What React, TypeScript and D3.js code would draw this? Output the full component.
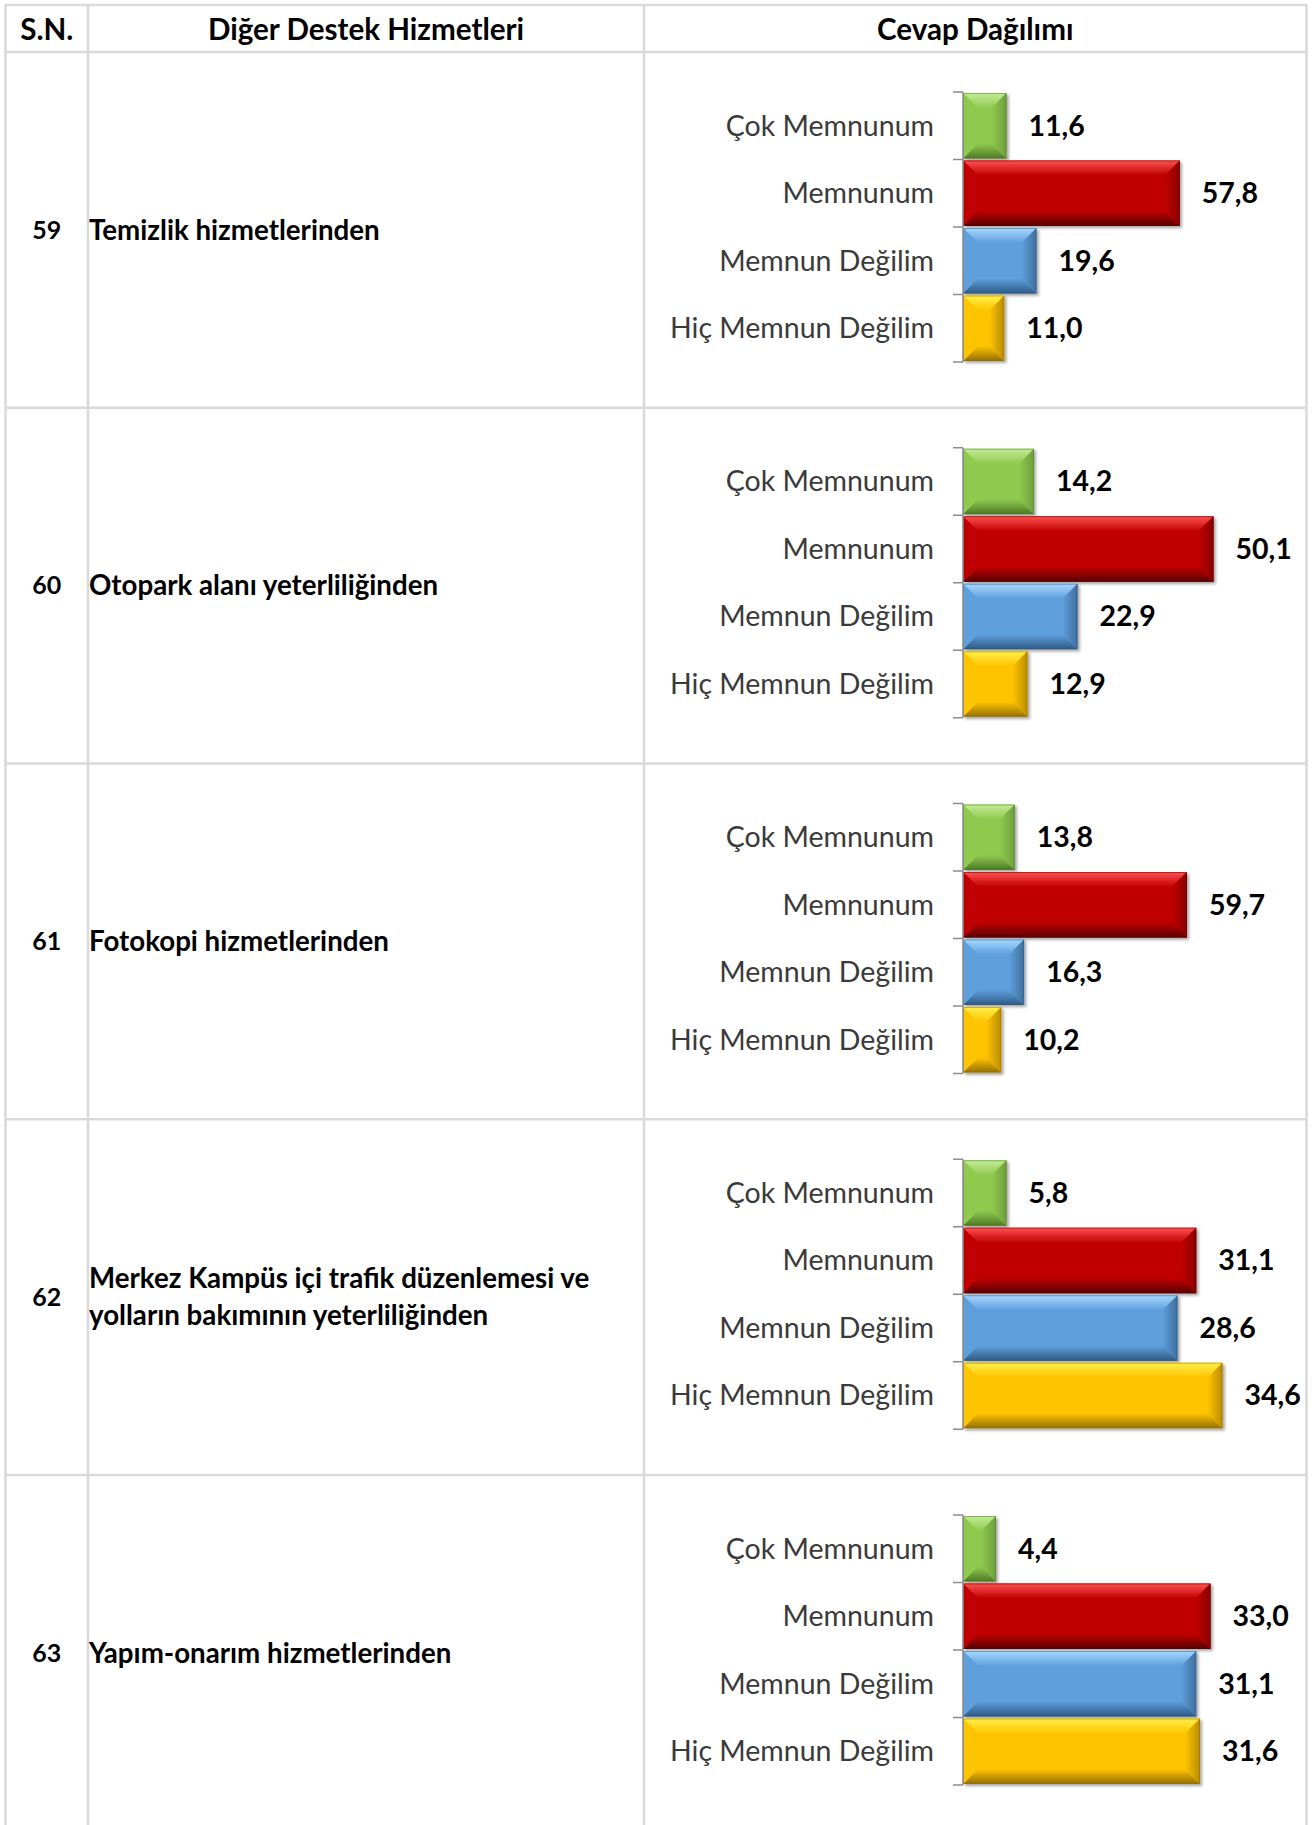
import React, { useEffect, useRef } from 'react';
import * as d3 from 'd3';

// answer categories (same order in every chart)
const categories = ['Çok Memnunum', 'Memnunum', 'Memnun Değilim', 'Hiç Memnun Değilim'];

// table rows
const itemNumbers = ['59', '60', '61', '62', '63'];
const itemTexts = [
  ['Temizlik hizmetlerinden'],
  ['Otopark alanı yeterliliğinden'],
  ['Fotokopi hizmetlerinden'],
  ['Merkez Kampüs içi trafik düzenlemesi ve', 'yolların bakımının yeterliliğinden'],
  ['Yapım-onarım hizmetlerinden'],
];

// percentages per answer, one entry per row
const cokMemnunum = [11.6, 14.2, 13.8, 5.8, 4.4];
const memnunum = [57.8, 50.1, 59.7, 31.1, 33.0];
const memnunDegilim = [19.6, 22.9, 16.3, 28.6, 31.1];
const hicMemnunDegilim = [11.0, 12.9, 10.2, 34.6, 31.6];

// axis maximum of each small chart
const axisMax = [80, 60, 80, 40, 40];

const headers = ['S.N.', 'Diğer Destek Hizmetleri', 'Cevap Dağılımı'];

const seriesColors = [
  { base: '#8fca4f', light: '#c4ec98', dark: '#4e7a25', side: '#6f9f3c' },
  { base: '#c00000', light: '#ff5252', dark: '#5a0000', side: '#8a0000' },
  { base: '#5e9fdc', light: '#a8d8ff', dark: '#2e5a86', side: '#3f6f9c' },
  { base: '#ffc400', light: '#fff04d', dark: '#957000', side: '#b98c00' },
];

const W = 1312;
const H = 1825;

const App = () => {
  const svgRef = useRef(null);

  useEffect(() => {
    const svg = d3.select(svgRef.current);
    svg.selectAll('*').remove();

    const colX = [5.5, 88, 644, 1306.5];
    const tableTop = 5;
    const headerBottom = 52;
    const rowH = 355.75;
    const font = 'Lato, Carlito, Calibri, sans-serif';

    const defs = svg.append('defs');
    defs.append('filter')
      .attr('id', 'shadow')
      .attr('x', '-10%').attr('y', '-20%')
      .attr('width', '130%').attr('height', '150%')
      .append('feDropShadow')
      .attr('dx', 2).attr('dy', 2)
      .attr('stdDeviation', 1.6)
      .attr('flood-color', '#000')
      .attr('flood-opacity', 0.35);

    seriesColors.forEach((c, k) => {
      const gTop = defs.append('linearGradient')
        .attr('id', `top${k}`).attr('x1', 0).attr('y1', 0).attr('x2', 0).attr('y2', 1);
      gTop.append('stop').attr('offset', '0%').attr('stop-color', c.light);
      gTop.append('stop').attr('offset', '100%').attr('stop-color', c.base);
      const gBot = defs.append('linearGradient')
        .attr('id', `bot${k}`).attr('x1', 0).attr('y1', 0).attr('x2', 0).attr('y2', 1);
      gBot.append('stop').attr('offset', '0%').attr('stop-color', c.base);
      gBot.append('stop').attr('offset', '100%').attr('stop-color', c.dark);
      const gRight = defs.append('linearGradient')
        .attr('id', `right${k}`).attr('x1', 0).attr('y1', 0).attr('x2', 1).attr('y2', 0);
      gRight.append('stop').attr('offset', '0%').attr('stop-color', c.base);
      gRight.append('stop').attr('offset', '100%').attr('stop-color', c.side);
    });

    const table = svg.append('g');

    // table grid
    const hLines = [tableTop, headerBottom].concat(itemNumbers.map((_, i) => headerBottom + (i + 1) * rowH));
    table.selectAll('.hline')
      .data(hLines.filter((y) => y < H - 2))
      .enter()
      .append('line')
      .attr('x1', colX[0]).attr('x2', colX[3])
      .attr('y1', (d) => d).attr('y2', (d) => d)
      .attr('stroke', '#d9d9d9').attr('stroke-width', 2.5);

    table.selectAll('.vline')
      .data(colX)
      .enter()
      .append('line')
      .attr('x1', (d) => d).attr('x2', (d) => d)
      .attr('y1', tableTop - 1).attr('y2', H)
      .attr('stroke', '#d9d9d9').attr('stroke-width', 2.5);

    // header texts
    table.selectAll('.head')
      .data(headers)
      .enter()
      .append('text')
      .attr('x', (d, i) => (colX[i] + colX[i + 1]) / 2)
      .attr('y', (tableTop + headerBottom) / 2 + 1)
      .attr('dy', '0.35em')
      .attr('text-anchor', 'middle')
      .attr('font-family', font)
      .attr('font-weight', 700)
      .attr('font-size', 29.6)
      .attr('fill', '#000')
      .text((d) => d);

    const fmt = (v) => d3.format('.1f')(v).replace('.', ',');

    itemNumbers.forEach((num, i) => {
      const top = headerBottom + i * rowH;
      const mid = top + rowH / 2;
      const row = svg.append('g');

      row.append('text')
        .attr('x', (colX[0] + colX[1]) / 2)
        .attr('y', mid)
        .attr('dy', '0.35em')
        .attr('text-anchor', 'middle')
        .attr('font-family', font)
        .attr('font-weight', 700)
        .attr('font-size', 25)
        .text(num);

      const lines = itemTexts[i];
      const lineH = 37;
      lines.forEach((t, j) => {
        row.append('text')
          .attr('x', colX[1] + 1)
          .attr('y', mid + (j - (lines.length - 1) / 2) * lineH)
          .attr('dy', '0.35em')
          .attr('font-family', font)
          .attr('font-weight', 700)
          .attr('font-size', 27.7)
          .text(t);
      });

      // small bar chart
      const values = [cokMemnunum[i], memnunum[i], memnunDegilim[i], hicMemnunDegilim[i]];
      const plotLeft = 963;
      const plotTop = top + 40;
      const plotH = 270;

      const xScale = d3.scaleLinear().domain([0, axisMax[i]]).range([0, 300]);
      const yScale = d3.scaleBand().domain(categories).range([0, plotH]).paddingInner(0.03).paddingOuter(0.015);
      const step = plotH / categories.length;

      const chart = row.append('g').attr('transform', `translate(${plotLeft},${plotTop})`);

      // category labels
      chart.selectAll('.cat')
        .data(categories)
        .enter()
        .append('text')
        .attr('x', -29)
        .attr('y', (d) => yScale(d) + yScale.bandwidth() / 2)
        .attr('dy', '0.35em')
        .attr('text-anchor', 'end')
        .attr('font-family', font)
        .attr('font-size', 28.5)
        .attr('fill', '#3a3a3a')
        .text((d) => d);

      // bars with bevel
      values.forEach((v, k) => {
        const x0 = 0;
        const y0 = yScale(categories[k]);
        const w = xScale(v);
        const h = yScale.bandwidth();
        const x1 = x0 + w;
        const y1 = y0 + h;
        const b = Math.min(15, w / 2, h / 2);
        const c = seriesColors[k];
        const bar = chart.append('g').attr('filter', 'url(#shadow)');
        bar.append('rect')
          .attr('x', x0).attr('y', y0).attr('width', w).attr('height', h)
          .attr('fill', c.base);
        const poly = (pts) => pts.map((p) => p.join(',')).join(' ');
        bar.append('polygon')
          .attr('points', poly([[x0, y0], [x1, y0], [x1 - b, y0 + b], [x0 + b, y0 + b]]))
          .attr('fill', `url(#top${k})`);
        bar.append('polygon')
          .attr('points', poly([[x0, y1], [x1, y1], [x1 - b, y1 - b], [x0 + b, y1 - b]]))
          .attr('fill', `url(#bot${k})`);
        bar.append('polygon')
          .attr('points', poly([[x0, y0], [x0 + b, y0 + b], [x0 + b, y1 - b], [x0, y1]]))
          .attr('fill', c.base)
          .attr('opacity', 0.9);
        bar.append('polygon')
          .attr('points', poly([[x1, y0], [x1 - b, y0 + b], [x1 - b, y1 - b], [x1, y1]]))
          .attr('fill', `url(#right${k})`);
        bar.append('rect')
          .attr('x', x0 + 0.5).attr('y', y0 + 0.5).attr('width', Math.max(0, w - 1)).attr('height', h - 1)
          .attr('fill', 'none')
          .attr('stroke', c.dark)
          .attr('stroke-opacity', 0.5)
          .attr('stroke-width', 1);

        chart.append('text')
          .attr('x', x1 + 22)
          .attr('y', y0 + h / 2)
          .attr('dy', '0.35em')
          .attr('font-family', font)
          .attr('font-weight', 700)
          .attr('font-size', 28.5)
          .attr('fill', '#000')
          .text(fmt(v));
      });

      // axis line with ticks between categories
      chart.append('line')
        .attr('x1', 0).attr('x2', 0)
        .attr('y1', 0).attr('y2', plotH)
        .attr('stroke', '#8c8c8c').attr('stroke-width', 1.5);
      chart.selectAll('.tick')
        .data(d3.range(categories.length + 1))
        .enter()
        .append('line')
        .attr('x1', -10).attr('x2', 0)
        .attr('y1', (d) => d * step).attr('y2', (d) => d * step)
        .attr('stroke', '#8c8c8c').attr('stroke-width', 1.5);
    });
  }, []);

  return (
    <svg
      ref={svgRef}
      width={W}
      height={H}
      style={{ position: 'absolute', left: 0, top: 0, background: '#fff' }}
    ></svg>
  );
};

export default App;
